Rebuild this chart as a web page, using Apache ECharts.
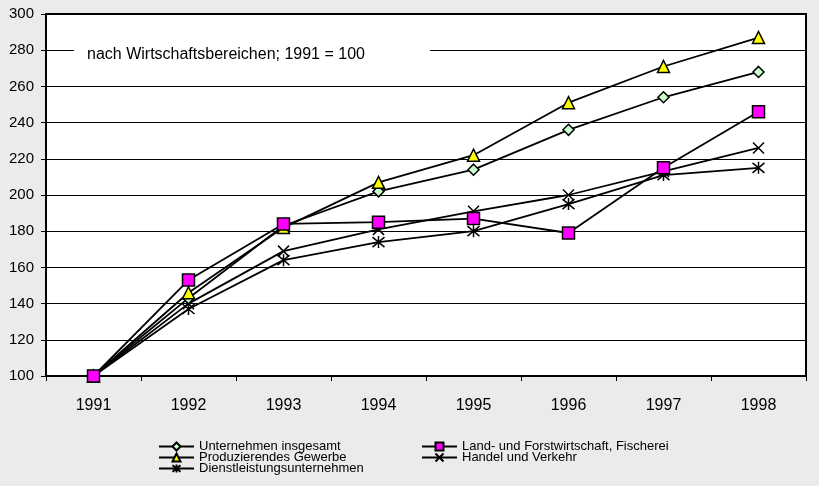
<!DOCTYPE html>
<html>
<head>
<meta charset="utf-8">
<script src="https://cdn.jsdelivr.net/npm/echarts@6/dist/echarts.min.js"></script>
<style>
  html, body { margin: 0; padding: 0; background: #ebebeb; }
  #chart { width: 819px; height: 486px; }
</style>
</head>
<body>
<div id="chart"></div>
<script>
// Data (1991 = 100)
const years = ['1991', '1992', '1993', '1994', '1995', '1996', '1997', '1998'];
const insgesamt = [100, 143, 183, 202, 214, 236, 254, 268];
const produzierend = [100, 146, 182, 207, 222, 251, 271, 287];
const dienstleistung = [100, 137, 164, 174, 180, 195, 211, 215];
const landForst = [100, 153, 184, 185, 187, 179, 215, 246];
const handel = [100, 140, 169, 181, 191, 200, 213, 226];

const font = 'Liberation Sans, Arial, sans-serif';

// X and asterisk markers as stroked paths
const crossPath = 'path://M0,0L10,10M10,0L0,10';
const starPath = 'path://M0,0L10,10M10,0L0,10M5,-1L5,11';

function lineSeries(name, data, symbol, size, fill) {
    return {
        name: name,
        type: 'line',
        data: data,
        symbol: symbol,
        symbolSize: size,
        showAllSymbol: true,
        lineStyle: { color: '#000', width: 1.8 },
        itemStyle: { color: fill, borderColor: '#000', borderWidth: 1.5 },
        emphasis: { disabled: true }
    };
}

const legendText = { fontSize: 13, color: '#000', fontFamily: font };

const chart = echarts.init(document.getElementById('chart'));

chart.setOption({
    backgroundColor: '#ebebeb',
    animation: false,
    textStyle: { fontFamily: font },
    grid: {
        left: 46, top: 14, right: 13, bottom: 110,
        show: true,
        backgroundColor: '#fff',
        borderColor: '#000',
        borderWidth: 2
    },
    xAxis: {
        type: 'category',
        data: years,
        boundaryGap: true,
        axisLine: { lineStyle: { color: '#000', width: 2 } },
        axisTick: { show: true, length: 5, lineStyle: { color: '#000' } },
        axisLabel: { color: '#000', fontSize: 16, margin: 22, fontFamily: font },
        splitLine: { show: false }
    },
    yAxis: {
        type: 'value',
        min: 100,
        max: 300,
        interval: 20,
        axisLine: { show: true, lineStyle: { color: '#000', width: 2 } },
        axisTick: { show: true, length: 5, lineStyle: { color: '#000' } },
        axisLabel: { color: '#000', fontSize: 15, margin: 12, fontFamily: font },
        splitLine: { lineStyle: { color: '#000', width: 1 } }
    },
    legend: [
        {
            data: ['Unternehmen insgesamt', 'Produzierendes Gewerbe', 'Dienstleistungsunternehmen'],
            orient: 'vertical',
            left: 158, top: 440, height: 46, padding: 0,
            itemWidth: 35, itemHeight: 10, itemGap: -2,
            selectedMode: false,
            textStyle: legendText
        },
        {
            data: ['Land- und Forstwirtschaft, Fischerei', 'Handel und Verkehr'],
            orient: 'vertical',
            left: 421, top: 440, height: 46, padding: 0,
            itemWidth: 35, itemHeight: 10, itemGap: -2,
            selectedMode: false,
            textStyle: legendText
        }
    ],
    graphic: [
        {
            type: 'rect',
            left: 74, top: 40, z: 100,
            shape: { width: 356, height: 30 },
            style: { fill: '#fff' }
        },
        {
            type: 'text',
            left: 87, top: 47, z: 101,
            style: {
                text: 'nach Wirtschaftsbereichen; 1991 = 100',
                fontSize: 16, fontFamily: font, fill: '#000'
            }
        }
    ],
    series: [
        lineSeries('Dienstleistungsunternehmen', dienstleistung, starPath, 12, '#000'),
        lineSeries('Handel und Verkehr', handel, crossPath, 11, '#000'),
        lineSeries('Unternehmen insgesamt', insgesamt, 'diamond', 11, '#ccffcc'),
        lineSeries('Produzierendes Gewerbe', produzierend, 'triangle', 12, '#ffff00'),
        lineSeries('Land- und Forstwirtschaft, Fischerei', landForst, 'rect', 12, '#ff00ff')
    ]
});
</script>
</body>
</html>
